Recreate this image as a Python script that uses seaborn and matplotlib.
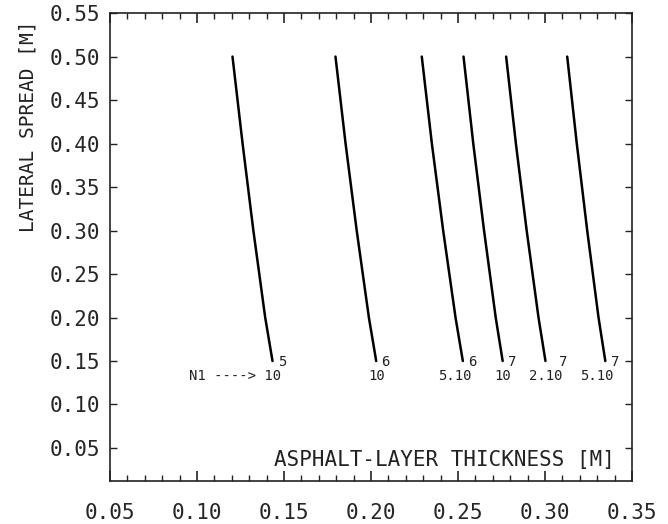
import matplotlib
matplotlib.use('Agg')
import matplotlib.pyplot as plt
from matplotlib.ticker import MultipleLocator, FormatStrFormatter
import seaborn as sns
import pandas as pd

# lateral spread [m] at which each curve was read
spread = [0.50, 0.40, 0.30, 0.20, 0.15]

# asphalt-layer thickness [m] for each N1 curve
thick_1e5 = [0.1204, 0.1262, 0.1324, 0.1392, 0.1434]
thick_1e6 = [0.1796, 0.1854, 0.1918, 0.1988, 0.2030]
thick_5e6 = [0.2292, 0.2350, 0.2415, 0.2486, 0.2528]
thick_1e7 = [0.2532, 0.2588, 0.2650, 0.2717, 0.2757]
thick_2e7 = [0.2777, 0.2833, 0.2895, 0.2963, 0.3003]
thick_5e7 = [0.3128, 0.3183, 0.3243, 0.3308, 0.3347]

curves = [thick_1e5, thick_1e6, thick_5e6, thick_1e7, thick_2e7, thick_5e7]
label_base = ["N1 ----> 10", "10", "5.10", "10", "2.10", "5.10"]
label_exp = ["5", "6", "6", "7", "7", "7"]

rows = []
for i, th in enumerate(curves):
    for t, s in zip(th, spread):
        rows.append({"curve": i, "thickness": t, "spread": s})
df = pd.DataFrame(rows)

sns.set_style('white')
plt.rcParams['font.family'] = ['DejaVu Sans Mono', 'DejaVu Sans']

fig = plt.figure(figsize=(6.68, 5.24), dpi=100)
ax = fig.add_axes([0.1647, 0.082, 0.7813, 0.893])

sns.lineplot(data=df, x="thickness", y="spread", units="curve", estimator=None,
             sort=False, color="black", linewidth=1.8, ax=ax, legend=False)

# N1 labels below the lower end of each curve (offsets in points)
x_off = [6.3, 6.3, 6.3, 6.3, 12.5, 6.3]
for th, base, ex, dx in zip(curves, label_base, label_exp, x_off):
    ax.annotate(base, xy=(th[-1], spread[-1]), xytext=(dx, -11), textcoords='offset points',
                ha='right', va='center', fontsize=10, color='#222222')
    ax.annotate(ex, xy=(th[-1], spread[-1]), xytext=(dx - 2.5, -0.5), textcoords='offset points',
                ha='left', va='center', fontsize=10, color='#222222')

ax.set_xlim(0.05, 0.35)
ax.set_ylim(0.012, 0.55)

ax.xaxis.set_major_locator(MultipleLocator(0.05))
ax.xaxis.set_minor_locator(MultipleLocator(0.01))
ax.yaxis.set_major_locator(MultipleLocator(0.05))
ax.xaxis.set_major_formatter(FormatStrFormatter('%.2f'))
ax.yaxis.set_major_formatter(FormatStrFormatter('%.2f'))

ax.tick_params(axis='x', which='both', direction='in', top=True, bottom=True, color='#222222')
ax.tick_params(axis='x', which='major', length=7, width=1.2, pad=16, labelsize=15)
ax.tick_params(axis='x', which='minor', length=4, width=1.0)
ax.tick_params(axis='y', which='major', direction='in', left=True, right=True,
               length=5, width=1.0, pad=7, labelsize=15, color='#222222')

for sp in ax.spines.values():
    sp.set_visible(True)
    sp.set_linewidth(1.2)
    sp.set_color('#222222')

ax.set_xlabel("ASPHALT-LAYER THICKNESS [M]", fontsize=15, loc='right', color='#222222')
ax.xaxis.set_label_coords(0.967, 0.045)
ax.xaxis.label.set_va('center')

ax.set_ylabel("LATERAL SPREAD [M]", fontsize=14, loc='top', color='#222222')
ax.yaxis.set_label_coords(-0.157, 0.985)
ax.yaxis.label.set_va('center')

plt.savefig('out.png', dpi=100)
